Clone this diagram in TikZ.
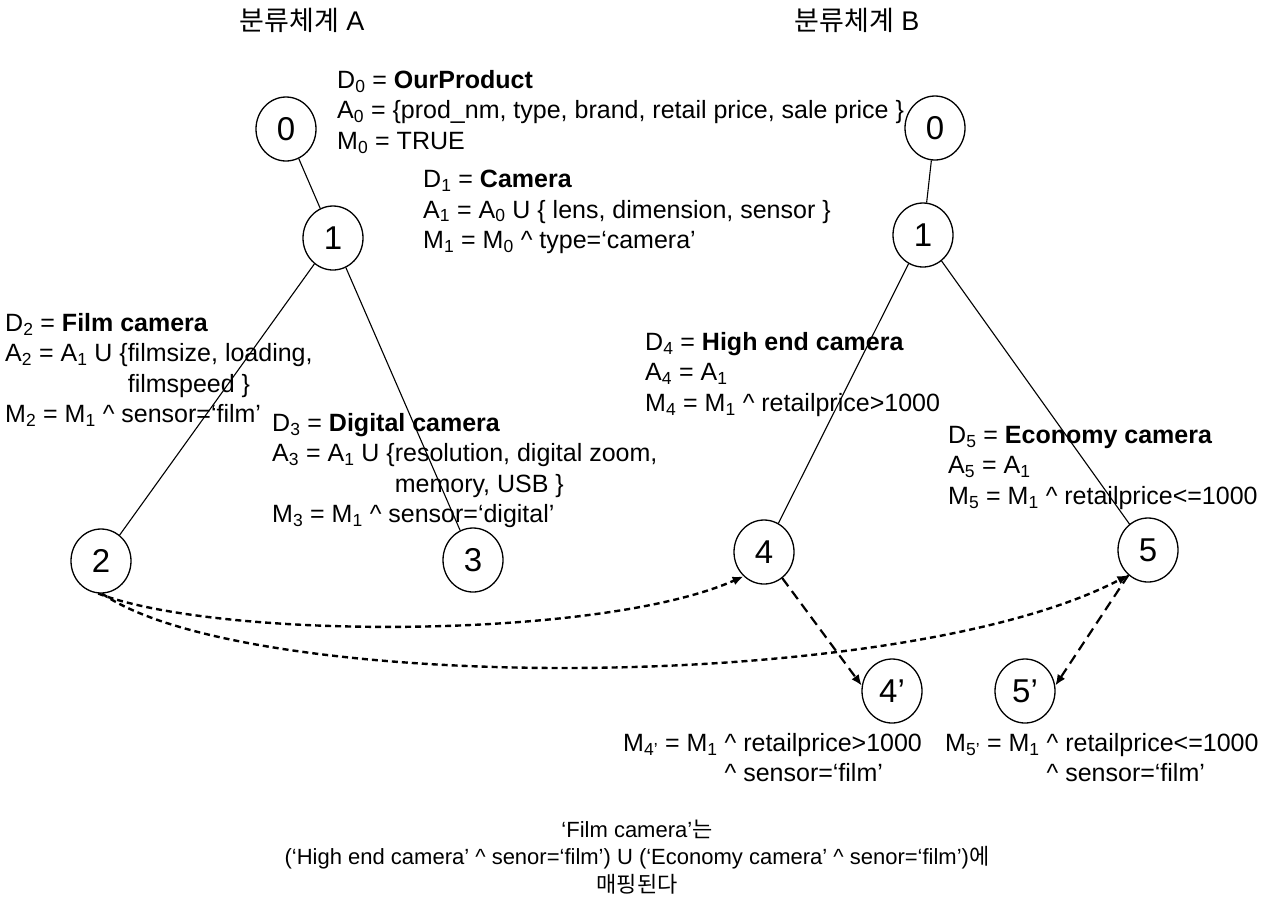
\documentclass[tikz,border=0pt]{standalone}
\usepackage{fontspec}
\setmainfont{Liberation Sans}
\newfontfamily\kor{Noto Sans CJK KR}
\usetikzlibrary{arrows.meta,shapes.geometric}
\newcommand{\sbs}[1]{\textsubscript{#1}}
\newcommand{\caret}{\textasciicircum}
\tikzset{
  tnode/.style={ellipse, draw, line width=1.3pt, minimum width=60pt, minimum height=64pt, inner sep=0pt, font=\fontsize{33}{33}\selectfont},
  info/.style={anchor=north west, align=left, inner sep=0pt, font=\fontsize{25}{30.5}\selectfont},
  title/.style={inner sep=0pt, font=\fontsize{27}{30}\selectfont},
  note/.style={align=center, inner sep=0pt, font=\fontsize{22}{27.5}\selectfont},
  edge/.style={line width=1.1pt},
  mapto/.style={line width=2.4pt, dash pattern=on 6pt off 4pt, -{Latex[length=11pt,width=9pt]}},
  splitto/.style={line width=2.2pt, dash pattern=on 10pt off 6pt, -{Latex[length=11pt,width=9pt]}},
}
\begin{document}
\begin{tikzpicture}[x=1pt,y=-1pt]
\useasboundingbox (0,0) rectangle (1273,906);
% titles
\node[title] (ta) at (302,20) {\kor 분류체계\normalfont{} A};
\node[title] (tb) at (857,20) {\kor 분류체계\normalfont{} B};
% taxonomy A
\node[tnode] (a0) at (286,129) {0};
\node[tnode] (a1) at (333,238) {1};
\node[tnode] (a2) at (101,561) {2};
\node[tnode] (a3) at (473,560) {3};
% taxonomy B
\node[tnode] (b0) at (935,128) {0};
\node[tnode] (b1) at (923,235) {1};
\node[tnode] (b4) at (764,552) {4};
\node[tnode] (b5) at (1148,550) {5};
\node[tnode] (b4p) at (892,691) {4'};
\node[tnode] (b5p) at (1025,691) {5'};
% descriptions
\node[info] (d0) at (337,70) {D\sbs{0} = \textbf{OurProduct}\\
  A\sbs{0} = \{prod\_nm, type, brand, retail price, sale price \}\\
  M\sbs{0} = TRUE};
\node[info] (d1) at (423,170) {D\sbs{1} = \textbf{Camera}\\
  A\sbs{1} = A\sbs{0} U \{ lens, dimension, sensor \}\\
  M\sbs{1} = M\sbs{0} \caret{} type=`camera'};
\node[info] (d2) at (5,313) {D\sbs{2} = \textbf{Film camera}\\
  A\sbs{2} = A\sbs{1} U \{filmsize, loading,\\
  \phantom{A\sbs{2} = A\sbs{1} U \{}filmspeed \}\\
  M\sbs{2} = M\sbs{1} \caret{} sensor=`film'};
\node[info] (d3) at (272,413) {D\sbs{3} = \textbf{Digital camera}\\
  A\sbs{3} = A\sbs{1} U \{resolution, digital zoom,\\
  \phantom{A\sbs{3} = A\sbs{1} U \{}memory, USB \}\\
  M\sbs{3} = M\sbs{1} \caret{} sensor=`digital'};
\node[info] (d4) at (645,332) {D\sbs{4} = \textbf{High end camera}\\
  A\sbs{4} = A\sbs{1}\\
  M\sbs{4} = M\sbs{1} \caret{} retailprice>1000};
\node[info] (d5) at (948,426) {D\sbs{5} = \textbf{Economy camera}\\
  A\sbs{5} = A\sbs{1}\\
  M\sbs{5} = M\sbs{1} \caret{} retailprice<=1000};
\node[info] (m4) at (623,733) {M\sbs{4'} = M\sbs{1} \caret{} retailprice>1000\\
  \phantom{M\sbs{4'} = M\sbs{1} }\caret{} sensor=`film'};
\node[info] (m5) at (945,733) {M\sbs{5'} = M\sbs{1} \caret{} retailprice<=1000\\
  \phantom{M\sbs{5'} = M\sbs{1} }\caret{} sensor=`film'};
\node[note] (sum) at (637,857) {`Film camera'{\kor 는}\\
  (`High end camera' \caret{} senor=`film') U (`Economy camera' \caret{} senor=`film'){\kor 에}\\
  {\kor 매핑된다}};
% tree edges
\draw[edge] (a0) -- (a1);
\draw[edge] (a1) -- (a2);
\draw[edge] (a1) -- (a3);
\draw[edge] (b0) -- (b1);
\draw[edge] (b1) -- (b4);
\draw[edge] (b1) -- (b5);
% mappings
\draw[mapto] (a2.-95) .. controls (220,640) and (600,640) .. (b4.-130);
\draw[mapto] (a2.-88) .. controls (250,695) and (900,695) .. (b5.-128);
\draw[splitto] (b4.-55) -- (b4p.170);
\draw[splitto] (b5.-128) -- (b5p.10);
\end{tikzpicture}
\end{document}
